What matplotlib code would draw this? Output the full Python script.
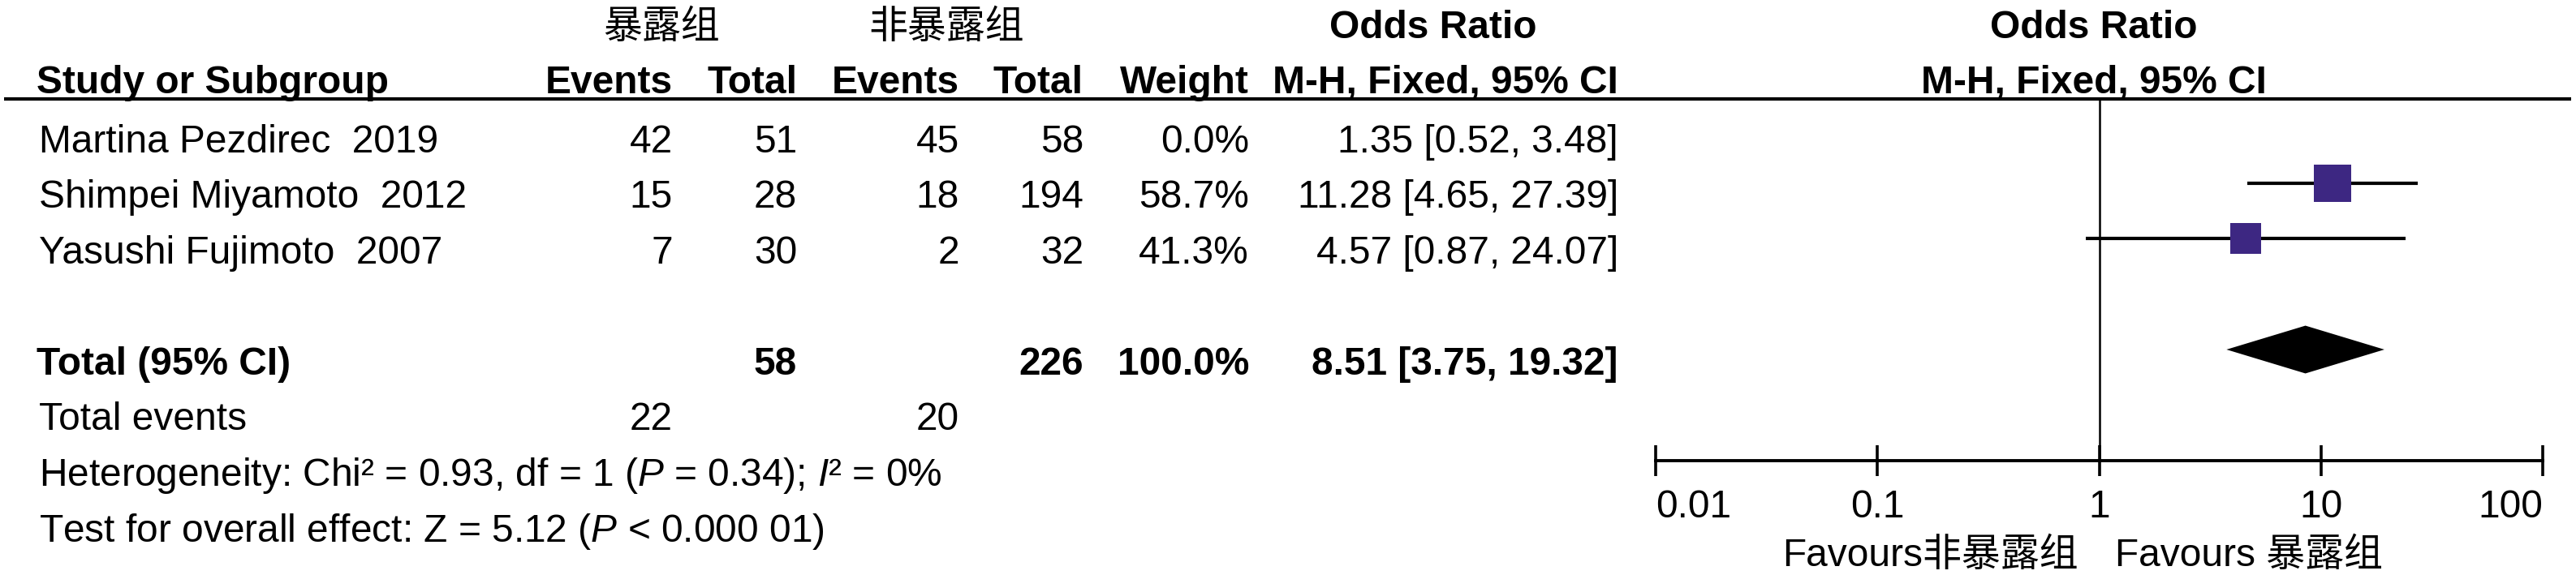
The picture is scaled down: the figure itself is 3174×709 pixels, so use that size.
import numpy as np
import matplotlib.pyplot as plt
from matplotlib.ticker import NullLocator

plt.rcParams['font.family'] = ['Liberation Sans', 'Noto Sans CJK SC']
plt.rcParams['mathtext.fontset'] = 'custom'
plt.rcParams['mathtext.rm'] = 'Liberation Sans'
plt.rcParams['mathtext.it'] = 'Liberation Sans:italic'

# data
studies = ['Martina Pezdirec  2019', 'Shimpei Miyamoto  2012', 'Yasushi Fujimoto  2007']
exp_events = [42, 15, 7]
exp_total = [51, 28, 30]
ctrl_events = [45, 18, 2]
ctrl_total = [58, 194, 32]
weights = [0.0, 58.7, 41.3]
odds = [1.35, 11.28, 4.57]
ci_low = [0.52, 4.65, 0.87]
ci_high = [3.48, 27.39, 24.07]
pooled = [8.51, 3.75, 19.32]
ticks = [0.01, 0.1, 1, 10, 100]
tick_labels = ['0.01', '0.1', '1', '10', '100']

W, H = 3174, 709
fs = 34.5
fig = plt.figure(figsize=(W / 100, H / 100), dpi=100)

# full-figure axes for the table text (pixel coordinates)
tab = fig.add_axes([0, 0, 1, 1])
tab.set_xlim(0, W)
tab.set_ylim(H, 0)
tab.axis('off')

def row_y(k):
    return 188 + 68.5 * k

# group headers
tab.text(815, 47, '暴露组', ha='center', fontsize=fs, family=['Noto Sans CJK SC'])
tab.text(1166, 47, '非暴露组', ha='center', fontsize=fs, family=['Noto Sans CJK SC'])
tab.text(1766, 47, 'Odds Ratio', ha='center', fontsize=fs, fontweight='bold')
tab.text(2580, 47, 'Odds Ratio', ha='center', fontsize=fs, fontweight='bold')

# column headers
cols = [829, 982, 1182, 1335, 1539, 1994]
tab.text(45, 115, 'Study or Subgroup', fontsize=fs, fontweight='bold')
for x, lab in zip(cols, ['Events', 'Total', 'Events', 'Total', 'Weight', 'M-H, Fixed, 95% CI']):
    tab.text(x, 115, lab, ha='right', fontsize=fs, fontweight='bold')
tab.text(2580, 115, 'M-H, Fixed, 95% CI', ha='center', fontsize=fs, fontweight='bold')
tab.plot([5, 3168], [122, 122], color='black', lw=3, solid_capstyle='butt')

# study rows
for i, name in enumerate(studies):
    y = row_y(i)
    tab.text(48, y, name, fontsize=fs)
    vals = [exp_events[i], exp_total[i], ctrl_events[i], ctrl_total[i],
            f'{weights[i]:.1f}%', f'{odds[i]:.2f} [{ci_low[i]:.2f}, {ci_high[i]:.2f}]']
    for x, v in zip(cols, vals):
        tab.text(x, y, str(v), ha='right', fontsize=fs)

# totals (studies with weight > 0)
inc = [w > 0 for w in weights]
sum_exp = sum(t for t, m in zip(exp_total, inc) if m)
sum_ctrl = sum(t for t, m in zip(ctrl_total, inc) if m)
ev_exp = sum(t for t, m in zip(exp_events, inc) if m)
ev_ctrl = sum(t for t, m in zip(ctrl_events, inc) if m)

y = row_y(4)
tab.text(45, y, 'Total (95% CI)', fontsize=fs, fontweight='bold')
tab.text(cols[1], y, str(sum_exp), ha='right', fontsize=fs, fontweight='bold')
tab.text(cols[3], y, str(sum_ctrl), ha='right', fontsize=fs, fontweight='bold')
tab.text(cols[4], y, f'{sum(weights):.1f}%', ha='right', fontsize=fs, fontweight='bold')
tab.text(cols[5], y, f'{pooled[0]:.2f} [{pooled[1]:.2f}, {pooled[2]:.2f}]',
         ha='right', fontsize=fs, fontweight='bold')

y = row_y(5)
tab.text(48, y, 'Total events', fontsize=fs)
tab.text(cols[0], y, str(ev_exp), ha='right', fontsize=fs)
tab.text(cols[2], y, str(ev_ctrl), ha='right', fontsize=fs)

tab.text(48, row_y(6), 'Heterogeneity: Chi² = 0.93, df = 1 ($P$ = 0.34); $I$² = 0%', fontsize=fs)
tab.text(48, row_y(7), 'Test for overall effect: Z = 5.12 ($P$ < 0.000 01)', fontsize=fs)

# forest plot axes
ax = fig.add_axes([2040 / W, 1 - 568 / H, (3133 - 2040) / W, (568 - 122) / H])
ax.patch.set_alpha(0)
ax.set_xscale('log')
ax.set_xlim(0.01, 100)
ax.set_ylim(6.0, -0.511)
for s in ['top', 'left', 'right']:
    ax.spines[s].set_visible(False)
ax.spines['bottom'].set_linewidth(2.8)
ax.set_yticks([])
ax.set_xticks(ticks)
ax.set_xticklabels(tick_labels)
ax.xaxis.set_minor_locator(NullLocator())
ax.tick_params(axis='x', direction='inout', length=27, width=2.6, pad=12, labelsize=fs)
labs = ax.get_xticklabels()
labs[0].set_ha('left')
labs[-1].set_ha('right')
ax.axvline(1, color='black', lw=1.8)

for i in range(len(studies)):
    if weights[i] <= 0:
        continue
    ax.plot([ci_low[i], ci_high[i]], [i, i], color='black', lw=3, clip_on=False,
            solid_capstyle='butt')
    ax.plot(odds[i], i, marker='s', color='#3D2782', markersize=4.23 * np.sqrt(weights[i]),
            markeredgewidth=0, clip_on=False)

h = 0.43
ax.fill([pooled[1], pooled[0], pooled[2], pooled[0]], [4, 4 - h, 4, 4 + h],
        color='black', lw=0)

tab.text(2561, 698, 'Favours非暴露组', ha='right', fontsize=fs)
tab.text(2606, 698, 'Favours 暴露组', ha='left', fontsize=fs)

fig.savefig('out.png', dpi=100)
